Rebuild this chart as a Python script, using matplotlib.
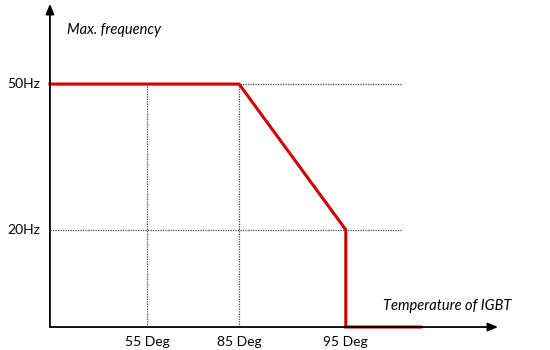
import matplotlib.pyplot as plt

# schematic positions of the temperature ticks along the x axis
temp_labels = ['55 Deg', '85 Deg', '95 Deg']
temp_pos = [1.0, 1.95, 3.05]
freq_labels = ['50Hz', '20Hz']
freq_vals = [50, 20]

# derating curve (x in schematic units, y in Hz)
curve_x = [0.0, 1.95, 3.05, 3.05, 3.82]
curve_y = [50, 50, 20, 0, 0]

grid_end = 3.63
x_arrow_end = 4.62
y_arrow_end = 66.5

fig = plt.figure(figsize=(5.5, 3.5), dpi=100)
ax = fig.add_axes([0, 0, 1, 1])
ax.set_xlim(-0.515, 5.155)
ax.set_ylim(-4.73, 67.3)
ax.axis('off')

font = ['Lato', 'DejaVu Sans']

# dotted guide lines
for f in freq_vals:
    ax.plot([0, grid_end], [f, f], ls=(0, (1, 1)), color='#444444', lw=0.9)
for p in temp_pos[:2]:
    ax.plot([p, p], [0, 50], ls=(0, (1, 1)), color='#444444', lw=0.9)

# the curve
ax.plot(curve_x, curve_y, color='#cc0000', lw=2.2, solid_joinstyle='miter')

# axes with arrow heads
ax.annotate('', xy=(x_arrow_end, 0), xytext=(0, 0),
            arrowprops=dict(arrowstyle='-|>,head_length=0.6,head_width=0.25', color='black', lw=1.3,
                            shrinkA=0, shrinkB=0))
ax.annotate('', xy=(0, y_arrow_end), xytext=(0, 0),
            arrowprops=dict(arrowstyle='-|>,head_length=0.6,head_width=0.25', color='black', lw=1.3,
                            shrinkA=0, shrinkB=0))

# labels
for lab, p in zip(temp_labels, temp_pos):
    ax.text(p, -3.1, lab, ha='center', va='center', fontsize=10, family=font)
for lab, f in zip(freq_labels, freq_vals):
    ax.text(-0.1, f, lab, ha='right', va='center', fontsize=10, family=font)

ax.text(0.18, 61.2, 'Max. frequency', ha='left', va='center', fontsize=10.5,
        style='italic', family=font)
ax.text(4.76, 4.4, 'Temperature of IGBT', ha='right', va='center', fontsize=10.5,
        style='italic', family=font)

fig.savefig('out.png', dpi=100)
